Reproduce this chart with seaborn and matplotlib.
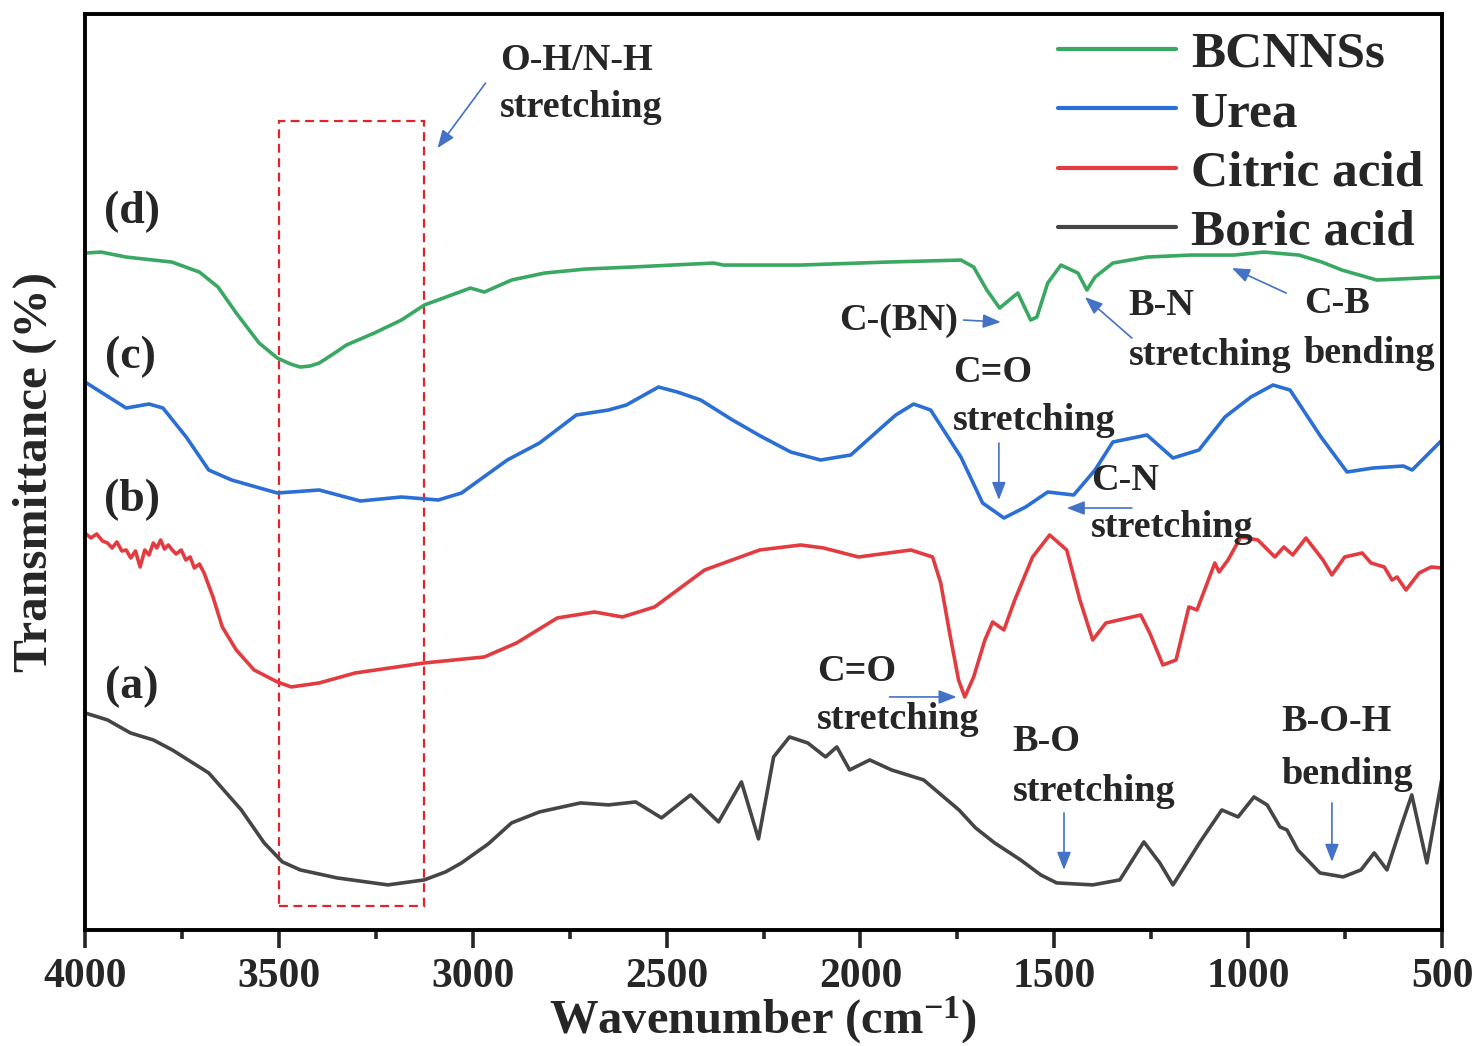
import matplotlib
matplotlib.use("Agg")
import matplotlib.pyplot as plt
from matplotlib.patches import Rectangle
from matplotlib.ticker import MultipleLocator
import numpy as np
import pandas as pd
import seaborn as sns

# ---- FTIR spectra (wavenumber in cm^-1, transmittance in a.u., offset per sample) ----
bcnns_wn = [4000, 3959, 3894, 3776, 3705, 3657, 3610, 3551, 3504, 3470, 3445, 3420, 3396,
            3360, 3326, 3254, 3184, 3125, 3006, 2970, 2900, 2815, 2709, 2591, 2379, 2353,
            2154, 1930, 1741, 1708, 1674, 1641, 1607, 1594, 1561, 1545, 1517, 1483, 1439,
            1416, 1395, 1349, 1261, 1148, 1037, 959, 869, 810, 758, 668, 500]
bcnns_t = [67.7, 67.8, 67.3, 66.8, 65.8, 64.3, 61.7, 58.7, 57.2, 56.6, 56.3, 56.4, 56.7,
           57.6, 58.5, 59.7, 61.0, 62.5, 64.2, 63.8, 65.0, 65.7, 66.1, 66.3, 66.7, 66.5,
           66.5, 66.8, 67.0, 66.3, 64.0, 62.2, 63.3, 63.7, 61.0, 61.3, 64.7, 66.5, 65.7,
           64.0, 65.3, 66.7, 67.3, 67.5, 67.5, 67.8, 67.5, 66.8, 66.0, 65.0, 65.3]

urea_wn = [4000, 3894, 3835, 3799, 3739, 3681, 3622, 3504, 3396, 3290, 3184, 3089, 3029,
           2911, 2828, 2733, 2650, 2604, 2521, 2472, 2412, 2330, 2258, 2180, 2103, 2025,
           1953, 1909, 1863, 1819, 1741, 1685, 1630, 1574, 1517, 1450, 1395, 1349, 1261,
           1194, 1127, 1060, 993, 936, 892, 812, 745, 678, 600, 577, 500]
urea_t = [54.8, 52.2, 52.6, 52.2, 49.3, 46.0, 45.0, 43.7, 44.0, 42.9, 43.3, 43.0, 43.7,
          47.0, 48.7, 51.5, 52.0, 52.5, 54.3, 53.8, 53.0, 51.0, 49.4, 47.8, 47.0, 47.5,
          50.0, 51.5, 52.6, 52.0, 47.3, 42.7, 41.2, 42.3, 43.8, 43.5, 46.0, 48.8, 49.5,
          47.2, 48.0, 51.3, 53.3, 54.5, 54.0, 49.3, 45.8, 46.2, 46.4, 46.0, 49.0]

citric_wn = [4000, 3985, 3970, 3955, 3942, 3930, 3918, 3905, 3894, 3882, 3870, 3858, 3846,
             3835, 3824, 3815, 3805, 3795, 3785, 3775, 3765, 3752, 3740, 3729, 3718, 3705,
             3693, 3670, 3646, 3610, 3564, 3504, 3468, 3396, 3303, 3125, 2970, 2887, 2782,
             2686, 2614, 2531, 2402, 2260, 2154, 2095, 2005, 1870, 1814, 1793, 1770, 1747,
             1731, 1708, 1679, 1659, 1630, 1602, 1556, 1512, 1468, 1434, 1401, 1367, 1277,
             1254, 1220, 1186, 1153, 1132, 1086, 1075, 1052, 1019, 975, 931, 908, 885, 851,
             807, 784, 751, 706, 683, 649, 629, 616, 593, 559, 528, 500]
citric_t = [39.7, 39.2, 39.6, 38.9, 38.7, 38.2, 38.8, 37.9, 38.0, 37.2, 37.9, 36.3, 38.0,
            37.5, 38.7, 38.2, 39.0, 38.1, 38.5, 38.0, 37.6, 38.0, 37.0, 37.3, 36.2, 36.6,
            35.7, 33.3, 30.3, 28.0, 26.0, 24.8, 24.3, 24.7, 25.7, 26.7, 27.3, 28.7, 31.2,
            31.8, 31.3, 32.3, 36.0, 38.0, 38.5, 38.2, 37.3, 38.0, 37.3, 34.7, 29.7, 25.0,
            23.3, 25.3, 29.0, 30.8, 30.0, 33.0, 37.3, 39.5, 38.0, 33.0, 29.0, 30.7, 31.5,
            29.7, 26.5, 27.0, 32.3, 32.0, 36.7, 35.8, 37.0, 39.3, 39.0, 37.3, 38.3, 37.5, 39.2,
            37.0, 35.5, 37.3, 37.7, 36.7, 36.3, 35.0, 35.3, 34.0, 35.7, 36.3, 36.2]

boric_wn = [4000, 3942, 3883, 3824, 3775, 3681, 3597, 3538, 3491, 3445, 3350, 3219, 3125,
            3070, 3029, 2960, 2900, 2828, 2722, 2650, 2580, 2513, 2438, 2366, 2307, 2263,
            2224, 2183, 2136, 2090, 2061, 2028, 1976, 1920, 1837, 1746, 1703, 1654, 1587,
            1535, 1494, 1401, 1331, 1269, 1228, 1194, 1124, 1068, 1026, 985, 951, 918, 900,
            872, 815, 755, 709, 675, 642, 606, 578, 539, 500]
boric_t = [21.7, 21.0, 19.7, 19.0, 18.0, 15.7, 12.0, 8.7, 6.8, 6.0, 5.2, 4.5, 5.0,
           5.8, 6.7, 8.6, 10.7, 11.8, 12.7, 12.5, 12.8, 11.2, 13.5, 10.8, 14.8, 9.1,
           17.3, 19.3, 18.7, 17.3, 18.3, 16.0, 17.0, 16.0, 15.0, 12.0, 10.2, 8.7, 7.0,
           5.5, 4.7, 4.5, 5.0, 8.8, 6.7, 4.5, 8.8, 12.0, 11.3, 13.3, 12.5, 10.3, 10.0,
           8.0, 5.7, 5.3, 6.0, 7.7, 6.0, 10.3, 13.5, 6.7, 15.2]

samples = ["BCNNSs", "Urea", "Citric acid", "Boric acid"]
colors = ["#3aa862", "#2b6fd4", "#e23c40", "#454545"]
curve_tags = ["(d)", "(c)", "(b)", "(a)"]

frames = []
for name, wn, t in [("BCNNSs", bcnns_wn, bcnns_t), ("Urea", urea_wn, urea_t),
                    ("Citric acid", citric_wn, citric_t), ("Boric acid", boric_wn, boric_t)]:
    frames.append(pd.DataFrame({"Wavenumber": wn, "Transmittance": t, "Sample": name}))
df = pd.concat(frames, ignore_index=True)

sns.set_theme(style="white")
plt.rcParams["font.family"] = ["Liberation Serif", "DejaVu Serif"]
plt.rcParams["font.weight"] = "bold"
plt.rcParams["mathtext.fontset"] = "custom"
plt.rcParams["mathtext.rm"] = "Liberation Serif:bold"
plt.rcParams["mathtext.bf"] = "Liberation Serif:bold"
plt.rcParams["mathtext.it"] = "Liberation Serif:bold:italic"

fig = plt.figure(figsize=(14.79, 10.46), dpi=100)
ax = fig.add_axes([0.0575, 0.111, 0.9175, 0.8755])

sns.lineplot(data=df, x="Wavenumber", y="Transmittance", hue="Sample",
             hue_order=samples, palette=colors, sort=False, estimator=None,
             linewidth=2.6, ax=ax)

ax.set_xlim(4000, 500)
ax.set_ylim(0, 91.6)
ax.xaxis.set_major_locator(MultipleLocator(500))
ax.xaxis.set_minor_locator(MultipleLocator(250))
ax.set_yticks([])
ax.tick_params(axis="x", which="major", direction="out", length=13, width=2.6,
               pad=7, labelsize=30, bottom=True, top=False)
ax.tick_params(axis="x", which="minor", direction="out", length=6.5, width=2.6,
               bottom=True, top=False)
for lab in ax.get_xticklabels():
    lab.set_fontweight("bold")
for sp in ax.spines.values():
    sp.set_linewidth(2.8)
    sp.set_color("black")

ax.set_xlabel("Wavenumber (cm$^{\\mathrm{-1}}$)", fontsize=35, fontweight="bold", labelpad=-1)
ax.set_ylabel("Transmittance (%)", fontsize=35.5, fontweight="bold", labelpad=20)

# legend
leg = ax.legend(loc="upper left", bbox_to_anchor=(0.702, 1.004), frameon=False,
                fontsize=37, handlelength=2.3, handletextpad=0.28, labelspacing=0.24,
                borderaxespad=0)
for line in leg.get_lines():
    line.set_linewidth(3.0)
for txt in leg.get_texts():
    txt.set_fontweight("bold")

# curve tags
tag_pos = [(3879, 71.8), (3884, 57.3), (3879, 43.0), (3879, 24.3)]
for tag, (xw, yt) in zip(curve_tags, tag_pos):
    ax.text(xw, yt, tag, fontsize=33, fontweight="bold", ha="center", va="center")

# O-H / N-H region box
ax.add_patch(Rectangle((3499, 2.4), 3125 - 3499, 80.9 - 2.4, fill=False,
                       edgecolor="#e0242c", linestyle=(0, (4, 2.5)), linewidth=1.6))

arrow_kw = dict(arrowstyle="-|>,head_length=0.9,head_width=0.35", color="#4472c4",
                lw=1.2, shrinkA=0, shrinkB=0)
fs = 27.5


def note(x, y, lines, gap=4.8):
    for i, s in enumerate(lines):
        ax.text(x, y - i * gap, s, fontsize=fs, fontweight="bold", ha="left", va="center")


def arrow(x0, y0, x1, y1):
    ax.annotate("", xy=(x1, y1), xytext=(x0, y0), arrowprops=arrow_kw)


note(2929, 87.0, ["O-H/N-H", "stretching"], gap=4.7)
arrow(2967, 84.7, 3091, 78.2)

note(2056, 61.0, ["C-(BN)"])
arrow(1734, 61.0, 1638, 60.8)

note(1308, 62.5, ["B-N", "stretching"], gap=5.0)
arrow(1300, 59.2, 1421, 63.3)

note(856, 62.7, ["C-B", "bending"], gap=5.0)
arrow(902, 63.7, 1042, 66.2)

note(1762, 55.8, ["C=O", "stretching"], gap=4.8)
arrow(1643, 48.7, 1643, 43.0)

note(1406, 45.0, ["C-N", "stretching"], gap=4.8)
arrow(1300, 42.2, 1468, 42.2)

note(2113, 25.8, ["C=O", "stretching"], gap=4.8)
arrow(1925, 23.3, 1752, 23.3)

note(1607, 18.8, ["B-O", "stretching"], gap=5.0)
arrow(1475, 11.7, 1475, 6.0)

note(915, 20.8, ["B-O-H", "bending"], gap=5.3)
arrow(784, 12.7, 784, 6.8)

fig.savefig("out.png", dpi=100)
